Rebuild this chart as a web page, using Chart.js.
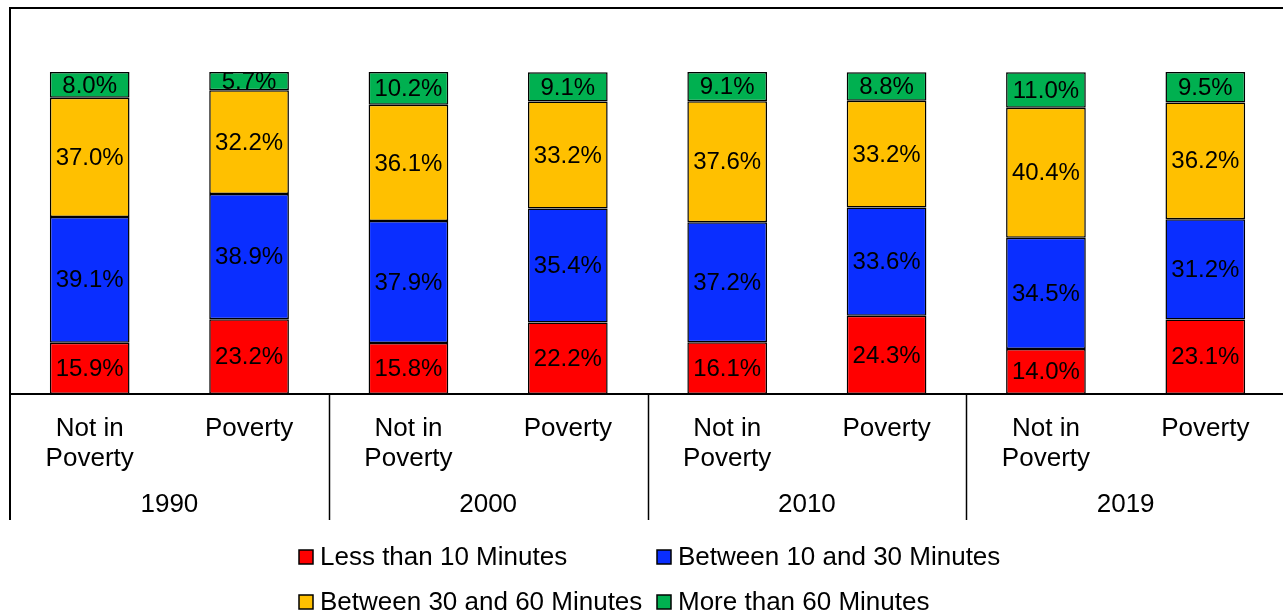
<!DOCTYPE html>
<html>
<head>
<meta charset="utf-8">
<script src="https://cdn.jsdelivr.net/npm/chart.js@4/dist/chart.umd.min.js"></script>
<style>
  html, body { margin: 0; padding: 0; background: #fff; overflow: hidden; }
  #wrap { position: relative; width: 1286px; height: 616px; }
</style>
</head>
<body>
<div id="wrap"><canvas id="c"></canvas></div>
<script>
// Commute time shares by poverty status and census year
const categories = [
  ["Not in", "Poverty"], "Poverty",
  ["Not in", "Poverty"], "Poverty",
  ["Not in", "Poverty"], "Poverty",
  ["Not in", "Poverty"], "Poverty"
];
const years = ["1990", "2000", "2010", "2019"];

const lessThan10   = [15.9, 23.2, 15.8, 22.2, 16.1, 24.3, 14.0, 23.1];
const from10to30   = [39.1, 38.9, 37.9, 35.4, 37.2, 33.6, 34.5, 31.2];
const from30to60   = [37.0, 32.2, 36.1, 33.2, 37.6, 33.2, 40.4, 36.2];
const moreThan60   = [8.0, 5.7, 10.2, 9.1, 9.1, 8.8, 11.0, 9.5];

const seriesNames = [
  "Less than 10 Minutes",
  "Between 10 and 30 Minutes",
  "Between 30 and 60 Minutes",
  "More than 60 Minutes"
];
const seriesColors = ["#FF0000", "#0A2EFF", "#FFC000", "#00B050"];

const FONT = '"Liberation Sans", Arial, sans-serif';
Chart.defaults.font.family = FONT;
Chart.defaults.color = "#000";

// Centered value labels inside each stacked segment
const segmentLabels = {
  id: "segmentLabels",
  afterDatasetsDraw(chart) {
    const ctx = chart.ctx;
    ctx.save();
    ctx.font = "24px " + FONT;
    ctx.fillStyle = "#000";
    ctx.textAlign = "center";
    ctx.textBaseline = "middle";
    chart.data.datasets.forEach((ds, i) => {
      const meta = chart.getDatasetMeta(i);
      meta.data.forEach((el, j) => {
        const p = el.getProps(["x", "y", "base"], true);
        ctx.fillText(ds.data[j].toFixed(1) + "%", p.x, (p.y + p.base) / 2 + 1);
      });
    });
    ctx.restore();
  }
};

// Outer frame and year-group separators below the axis
const frameLines = {
  id: "frameLines",
  afterDraw(chart) {
    const ctx = chart.ctx;
    const a = chart.chartArea;
    const bottom = 520;
    ctx.save();
    ctx.strokeStyle = "#000";
    ctx.lineWidth = 2;
    ctx.beginPath();
    ctx.moveTo(a.left, bottom);
    ctx.lineTo(a.left, 8);
    ctx.lineTo(chart.width, 8);
    ctx.stroke();
    ctx.lineWidth = 1.5;
    const n = years.length;
    for (let k = 1; k < n; k++) {
      const x = Math.round(a.left + (a.right - a.left) * k / n) + 0.5;
      ctx.beginPath();
      ctx.moveTo(x, a.bottom);
      ctx.lineTo(x, bottom);
      ctx.stroke();
    }
    ctx.restore();
  }
};

// Two-column legend laid out in a grid
const gridLegend = {
  id: "gridLegend",
  afterDraw(chart) {
    const ctx = chart.ctx;
    ctx.save();
    ctx.font = "26px " + FONT;
    ctx.textBaseline = "middle";
    ctx.textAlign = "left";
    const box = 14, gap = 7, colGap = 14;
    const items = chart.data.datasets.map(d => ({ label: d.label, color: d.backgroundColor }));
    const widths = items.map(it => box + gap + ctx.measureText(it.label).width);
    const col0 = Math.max(widths[0], widths[2]);
    const col1 = Math.max(widths[1], widths[3]);
    const total = col0 + colGap + col1;
    const a = chart.chartArea;
    const startX = (a.left + a.right) / 2 - total / 2 + 2;
    const rowsY = [557, 602];
    items.forEach((it, i) => {
      const col = i % 2, row = Math.floor(i / 2);
      const x = Math.round(col === 0 ? startX : startX + col0 + colGap);
      const y = rowsY[row];
      ctx.fillStyle = it.color;
      ctx.fillRect(x, y - box / 2, box, box);
      ctx.strokeStyle = "#000";
      ctx.lineWidth = 1.5;
      ctx.strokeRect(x, y - box / 2, box, box);
      ctx.fillStyle = "#000";
      ctx.fillText(it.label, x + box + gap, y + 1);
    });
    ctx.restore();
  }
};

const seriesData = [lessThan10, from10to30, from30to60, moreThan60];

new Chart(document.getElementById("c"), {
  type: "bar",
  data: {
    labels: categories,
    datasets: seriesData.map((d, i) => ({
      label: seriesNames[i],
      data: d,
      backgroundColor: seriesColors[i],
      borderColor: "#000",
      borderWidth: 1.5,
      borderSkipped: false,
      categoryPercentage: 1.0,
      barPercentage: 0.5,
      xAxisID: "x",
      yAxisID: "y"
    }))
  },
  options: {
    responsive: true,
    maintainAspectRatio: false,
    animation: false,
    events: [],
    layout: { padding: { left: 10, right: 1, top: 72, bottom: 98 } },
    plugins: {
      legend: { display: false },
      tooltip: { enabled: false }
    },
    scales: {
      x: {
        stacked: true,
        position: "bottom",
        weight: 0,
        offset: true,
        grid: { display: false, drawTicks: false },
        border: { display: true, color: "#000", width: 2 },
        afterFit(scale) { scale.height = 78; },
        ticks: {
          maxRotation: 0,
          autoSkip: false,
          padding: 20,
          font: { size: 26, lineHeight: 1.154 },
          color: "#000"
        }
      },
      years: {
        type: "category",
        labels: years,
        position: "bottom",
        weight: 1,
        offset: true,
        grid: { display: false, drawTicks: false },
        border: { display: false },
        afterFit(scale) { scale.height = 46; },
        ticks: {
          maxRotation: 0,
          autoSkip: false,
          padding: 18,
          font: { size: 26, lineHeight: 1.154 },
          color: "#000"
        }
      },
      y: {
        stacked: true,
        display: false,
        min: 0,
        max: 100
      }
    }
  },
  plugins: [segmentLabels, frameLines, gridLegend]
});
</script>
</body>
</html>
